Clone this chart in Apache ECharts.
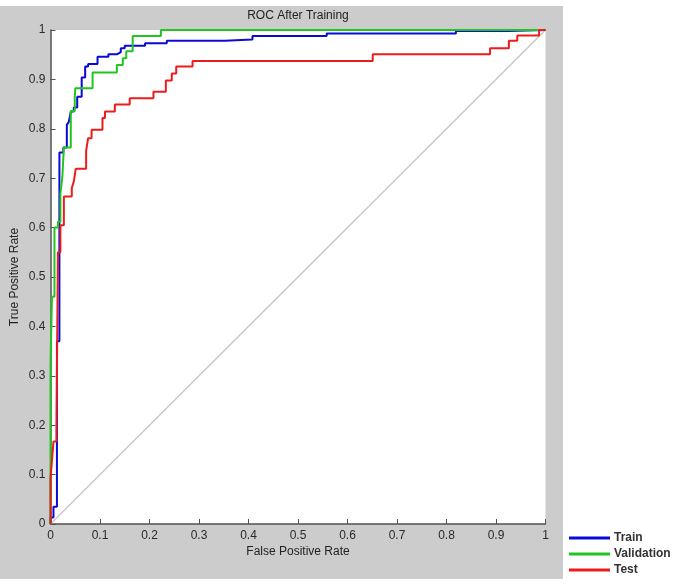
<!DOCTYPE html>
<html>
<head>
<meta charset="utf-8">
<script src="https://cdn.jsdelivr.net/npm/echarts@6/dist/echarts.min.js"></script>
<style>
html,body{margin:0;padding:0;background:#fff;}
#chart{width:679px;height:585px;}
</style>
</head>
<body>
<div id="chart"></div>
<script>
var titleText = 'ROC After Training';
var xName = 'False Positive Rate';
var yName = 'True Positive Rate';
var seriesNames = ['Train', 'Validation', 'Test'];

// [false positive rate, true positive rate]
var trainPoints = [
  [0,0],[0,0.013],[0.006,0.013],[0.006,0.035],[0.013,0.035],[0.013,0.19],[0.013,0.37],
  [0.018,0.37],[0.018,0.752],[0.026,0.752],[0.026,0.762],[0.033,0.762],[0.033,0.808],
  [0.037,0.808],[0.037,0.814],[0.041,0.814],[0.041,0.835],[0.047,0.835],[0.047,0.843],
  [0.054,0.843],[0.054,0.865],[0.063,0.865],[0.063,0.904],[0.070,0.904],[0.070,0.926],
  [0.076,0.926],[0.076,0.931],[0.095,0.931],[0.095,0.946],[0.117,0.946],[0.117,0.951],
  [0.135,0.951],[0.135,0.955],[0.142,0.955],[0.142,0.963],[0.150,0.963],[0.150,0.968],
  [0.191,0.968],[0.191,0.973],[0.235,0.973],[0.235,0.978],[0.352,0.978],[0.352,0.981],
  [0.408,0.981],[0.408,0.988],[0.558,0.988],[0.558,0.993],[0.819,0.993],[0.819,0.998],
  [0.923,0.998],[0.923,1],[1,1]
];
var validationPoints = [
  [0,0],[0,0.325],[0.003,0.325],[0.003,0.46],[0.008,0.46],[0.008,0.60],[0.015,0.60],
  [0.015,0.612],[0.020,0.612],[0.020,0.669],[0.024,0.669],[0.024,0.703],[0.027,0.703],
  [0.027,0.762],[0.041,0.762],[0.041,0.836],[0.049,0.836],[0.049,0.865],[0.050,0.865],
  [0.050,0.882],[0.085,0.882],[0.085,0.914],[0.134,0.914],[0.134,0.929],[0.146,0.929],
  [0.146,0.943],[0.153,0.943],[0.153,0.957],[0.166,0.957],[0.166,0.988],[0.223,0.988],
  [0.223,1],[1,1]
];
var testPoints = [
  [0,0],[0,0.093],[0.002,0.093],[0.002,0.116],[0.006,0.116],[0.006,0.167],[0.012,0.167],
  [0.012,0.19],[0.015,0.19],[0.015,0.55],[0.020,0.55],[0.020,0.605],[0.027,0.605],
  [0.027,0.663],[0.043,0.663],[0.043,0.680],[0.047,0.680],[0.047,0.693],[0.051,0.693],
  [0.051,0.719],[0.072,0.719],[0.072,0.756],[0.076,0.756],[0.076,0.781],[0.083,0.781],
  [0.083,0.798],[0.105,0.798],[0.105,0.822],[0.110,0.822],[0.110,0.835],[0.130,0.835],
  [0.130,0.849],[0.160,0.849],[0.160,0.862],[0.208,0.862],[0.208,0.875],[0.233,0.875],
  [0.233,0.898],[0.245,0.898],[0.245,0.912],[0.254,0.912],[0.254,0.926],[0.287,0.926],
  [0.287,0.937],[0.651,0.937],[0.651,0.951],[0.888,0.951],[0.888,0.963],[0.926,0.963],
  [0.926,0.978],[0.943,0.978],[0.943,0.989],[0.987,0.989],[0.987,1],[1,1]
];
var diagonalPoints = [[0,0],[1,1]];

var FONT = '"Liberation Sans", Arial, sans-serif';
var chart = echarts.init(document.getElementById('chart'), null, {renderer: 'canvas'});

function axisCommon(name, gap, rotate) {
  return {
    type: 'value', min: 0, max: 1, interval: 0.1,
    name: name, nameLocation: 'middle', nameGap: gap, nameRotate: rotate,
    nameMoveOverlap: false,
    nameTextStyle: {fontFamily: FONT, fontSize: 12, color: '#222'},
    axisLine: {show: true, lineStyle: {color: '#505050', width: 1.5}},
    axisTick: {show: true, inside: true, length: 5, lineStyle: {color: '#505050', width: 1}},
    axisLabel: {fontFamily: FONT, fontSize: 12, color: '#2a2a2a', margin: 6},
    splitLine: {show: false}
  };
}

var xAxis = axisCommon(xName, 22, 0);
var yAxis = axisCommon(yName, 30, 90);
yAxis.axisLabel.margin = 5;

chart.setOption({
  animation: false,
  backgroundColor: '#ffffff',
  graphic: [{
    type: 'rect', z: -10, silent: true,
    shape: {x: 0, y: 6, width: 563, height: 573},
    style: {fill: '#cccccc'}
  }],
  title: {
    text: titleText, left: 298, top: 10, padding: 0, textAlign: 'center',
    textStyle: {fontFamily: FONT, fontSize: 12, fontWeight: 'normal', color: '#222'}
  },
  grid: {
    left: 50.5, top: 30, right: 133.5, bottom: 61,
    outerBoundsMode: 'none', containLabel: false,
    show: true, backgroundColor: '#ffffff', borderWidth: 0
  },
  legend: {
    data: seriesNames,
    orient: 'vertical', left: 569, top: 531, padding: 0,
    icon: 'rect', itemWidth: 41, itemHeight: 3, itemGap: 2,
    textStyle: {fontFamily: FONT, fontSize: 12, fontWeight: 'bold', color: '#333', lineHeight: 14, padding: [0,0,0,-1]}
  },
  xAxis: xAxis,
  yAxis: yAxis,
  series: [
    {name: 'diag', type: 'line', data: diagonalPoints, symbol: 'none', silent: true,
     lineStyle: {color: '#c8c8c8', width: 1.5}, z: 1},
    {name: seriesNames[0], type: 'line', data: trainPoints, symbol: 'none',
     itemStyle: {color: '#0a0ad8'}, lineStyle: {color: '#0a0ad8', width: 2}, z: 2},
    {name: seriesNames[1], type: 'line', data: validationPoints, symbol: 'none',
     itemStyle: {color: '#22c422'}, lineStyle: {color: '#22c422', width: 2}, z: 3},
    {name: seriesNames[2], type: 'line', data: testPoints, symbol: 'none',
     itemStyle: {color: '#ec1c1c'}, lineStyle: {color: '#ec1c1c', width: 2}, z: 4}
  ]
});
</script>
</body>
</html>
